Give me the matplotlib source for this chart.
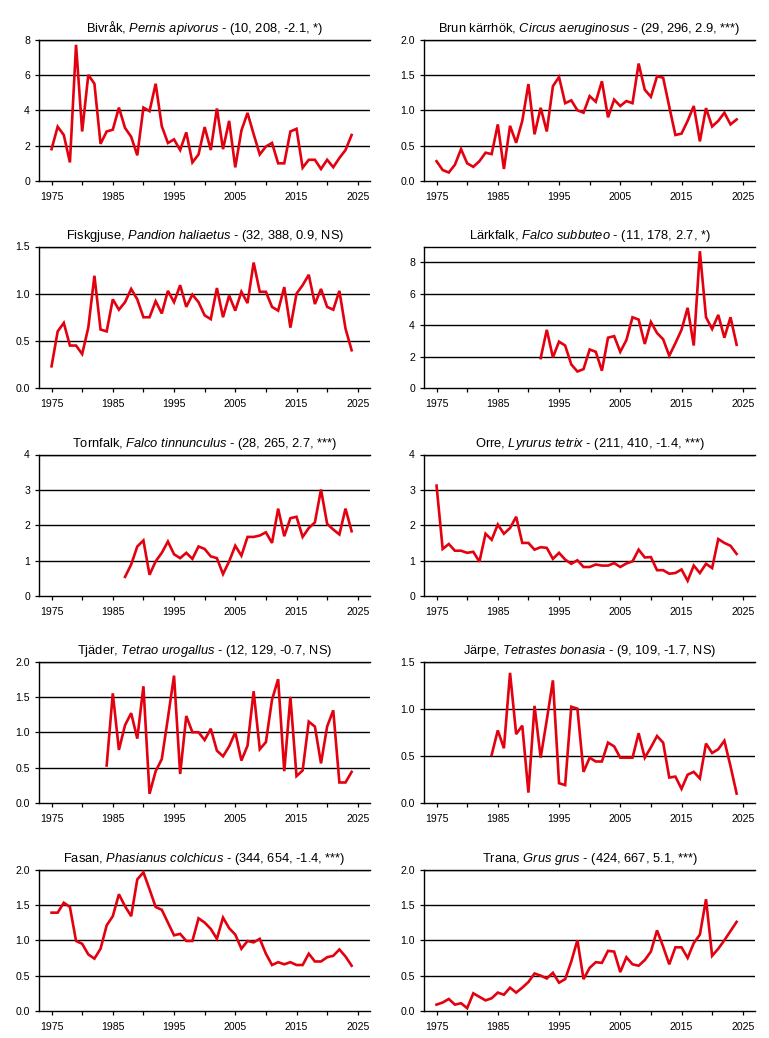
import matplotlib
matplotlib.use("Agg")
import matplotlib.pyplot as plt
import numpy as np

plt.rcParams['font.family'] = ['Liberation Sans', 'DejaVu Sans']
plt.rcParams['mathtext.fontset'] = 'custom'
plt.rcParams['mathtext.rm'] = 'Liberation Sans'
plt.rcParams['mathtext.it'] = 'Liberation Sans:italic'

# ---------------- data ----------------
bivrak_years = list(range(1975, 2025))
bivrak = [1.8, 3.07, 2.6, 1.05, 7.7, 2.8, 6.0, 5.5, 2.1, 2.8,
          2.9, 4.15, 3.0, 2.5, 1.45, 4.15, 3.95, 5.5, 3.1, 2.15,
          2.35, 1.75, 2.75, 1.05, 1.5, 3.05, 1.75, 4.1, 1.8, 3.4,
          0.77, 2.85, 3.85, 2.65, 1.5, 1.95, 2.15, 1.0, 1.0, 2.8,
          2.95, 0.75, 1.2, 1.2, 0.68, 1.2, 0.78, 1.3, 1.75, 2.6]

brun_years = list(range(1975, 2025))
brun = [0.28, 0.155, 0.12, 0.23, 0.45, 0.25, 0.20, 0.28, 0.40, 0.38,
        0.80, 0.17, 0.78, 0.54, 0.85, 1.37, 0.66, 1.035, 0.70, 1.34,
        1.47, 1.10, 1.14, 1.0, 0.965, 1.2, 1.12, 1.41, 0.90, 1.15,
        1.06, 1.13, 1.10, 1.66, 1.29, 1.19, 1.48, 1.46, 1.05, 0.65,
        0.67, 0.85, 1.06, 0.56, 1.03, 0.77, 0.85, 0.965, 0.80, 0.87]

fisk_years = list(range(1975, 2025))
fisk = [0.23, 0.60, 0.69, 0.45, 0.45, 0.36, 0.64, 1.19, 0.62, 0.60,
        0.94, 0.83, 0.91, 1.05, 0.94, 0.75, 0.75, 0.92, 0.79, 1.03,
        0.91, 1.09, 0.86, 0.99, 0.91, 0.77, 0.73, 1.06, 0.75, 0.98,
        0.82, 1.02, 0.90, 1.33, 1.02, 1.02, 0.86, 0.82, 1.07, 0.64,
        1.0, 1.09, 1.20, 0.89, 1.05, 0.86, 0.83, 1.03, 0.63, 0.40]

lark_years = list(range(1992, 2025))
lark = [1.9, 3.7, 1.95, 2.95, 2.7, 1.5, 1.05, 1.2, 2.45, 2.3,
        1.1, 3.2, 3.3, 2.3, 3.05, 4.5, 4.35, 2.8, 4.2, 3.5,
        3.1, 2.05, 2.85, 3.7, 5.1, 2.7, 8.7, 4.5, 3.75, 4.65,
        3.2, 4.5, 2.75]

torn_years = list(range(1987, 2025))
torn = [0.54, 0.89, 1.4, 1.57, 0.6, 0.98, 1.22, 1.54, 1.18, 1.07,
        1.22, 1.05, 1.4, 1.33, 1.12, 1.07, 0.62, 0.98, 1.42, 1.14,
        1.67, 1.67, 1.71, 1.80, 1.5, 2.47, 1.69, 2.2, 2.24, 1.67,
        1.92, 2.08, 3.01, 2.04, 1.88, 1.74, 2.47, 1.83]

orre_years = list(range(1975, 2025))
orre = [3.12, 1.33, 1.47, 1.28, 1.28, 1.22, 1.25, 0.97, 1.76, 1.59,
        2.02, 1.76, 1.92, 2.24, 1.5, 1.5, 1.31, 1.38, 1.36, 1.05,
        1.22, 1.03, 0.91, 1.01, 0.82, 0.82, 0.89, 0.86, 0.86, 0.93,
        0.82, 0.92, 0.98, 1.31, 1.09, 1.10, 0.73, 0.73, 0.63, 0.65,
        0.75, 0.43, 0.86, 0.65, 0.91, 0.79, 1.61, 1.5, 1.42, 1.19]

tjader_years = list(range(1984, 2025))
tjader = [0.53, 1.55, 0.75, 1.10, 1.27, 0.91, 1.65, 0.13, 0.45, 0.62,
          1.2, 1.80, 0.41, 1.23, 1.0, 1.0, 0.89, 1.05, 0.74, 0.66,
          0.80, 1.0, 0.60, 0.81, 1.58, 0.76, 0.86, 1.46, 1.75, 0.45,
          1.5, 0.38, 0.46, 1.15, 1.08, 0.56, 1.08, 1.31, 0.29, 0.29,
          0.44]

jarpe_years = list(range(1984, 2025))
jarpe = [0.51, 0.77, 0.58, 1.38, 0.73, 0.82, 0.11, 1.03, 0.48, 0.88,
         1.30, 0.21, 0.19, 1.02, 1.0, 0.33, 0.48, 0.44, 0.44, 0.64,
         0.60, 0.48, 0.48, 0.48, 0.74, 0.48, 0.59, 0.71, 0.64, 0.27,
         0.28, 0.15, 0.30, 0.33, 0.26, 0.63, 0.53, 0.57, 0.66, 0.39,
         0.10]

fasan_years = list(range(1975, 2025))
fasan = [1.39, 1.39, 1.53, 1.47, 0.99, 0.95, 0.80, 0.74, 0.88, 1.21,
         1.34, 1.65, 1.48, 1.34, 1.86, 1.96, 1.72, 1.47, 1.43, 1.25,
         1.07, 1.09, 0.99, 0.99, 1.31, 1.25, 1.16, 1.02, 1.32, 1.17,
         1.08, 0.88, 0.99, 0.97, 1.02, 0.81, 0.65, 0.69, 0.66, 0.69,
         0.65, 0.65, 0.81, 0.70, 0.70, 0.76, 0.78, 0.87, 0.77, 0.64]

trana_years = list(range(1975, 2025))
trana = [0.09, 0.12, 0.17, 0.09, 0.11, 0.04, 0.25, 0.20, 0.15, 0.18,
         0.26, 0.23, 0.33, 0.26, 0.33, 0.41, 0.53, 0.50, 0.46, 0.54,
         0.40, 0.45, 0.70, 1.0, 0.45, 0.61, 0.69, 0.68, 0.85, 0.84,
         0.55, 0.76, 0.66, 0.64, 0.72, 0.84, 1.14, 0.91, 0.66, 0.90,
         0.90, 0.75, 0.96, 1.08, 1.58, 0.78, 0.88, 1.0, 1.13, 1.26]

names = ["Bivråk", "Brun kärrhök", "Fiskgjuse", "Lärkfalk", "Tornfalk",
         "Orre", "Tjäder", "Järpe", "Fasan", "Trana"]
latin = ["Pernis apivorus", "Circus aeruginosus", "Pandion haliaetus",
         "Falco subbuteo", "Falco tinnunculus", "Lyrurus tetrix",
         "Tetrao urogallus", "Tetrastes bonasia", "Phasianus colchicus",
         "Grus grus"]
stats = ["(10, 208, -2.1, *)", "(29, 296, 2.9, ***)", "(32, 388, 0.9, NS)",
         "(11, 178, 2.7, *)", "(28, 265, 2.7, ***)", "(211, 410, -1.4, ***)",
         "(12, 129, -0.7, NS)", "(9, 109, -1.7, NS)", "(344, 654, -1.4, ***)",
         "(424, 667, 5.1, ***)"]
series_years = [bivrak_years, brun_years, fisk_years, lark_years, torn_years,
                orre_years, tjader_years, jarpe_years, fasan_years, trana_years]
series_vals = [bivrak, brun, fisk, lark, torn, orre, tjader, jarpe, fasan, trana]
ymax = [8, 2.0, 1.5, 9, 4, 4, 2.0, 1.5, 2.0, 2.0]
yticks = [[0, 2, 4, 6, 8], [0, 0.5, 1.0, 1.5, 2.0], [0, 0.5, 1.0, 1.5],
          [0, 2, 4, 6, 8], [0, 1, 2, 3, 4], [0, 1, 2, 3, 4],
          [0, 0.5, 1.0, 1.5, 2.0], [0, 0.5, 1.0, 1.5],
          [0, 0.5, 1.0, 1.5, 2.0], [0, 0.5, 1.0, 1.5, 2.0]]
xticks = list(range(1975, 2030, 5))
xlabels = ["1975", "", "1985", "", "1995", "", "2005", "", "2015", "", "2025"]

# ---------------- figure ----------------
W, H = 769, 1038
fig = plt.figure(figsize=(W / 100, H / 100), dpi=100)

col_left = [39.3, 424.3]
ax_w = 330.7
row_bottom = [857, 650, 442, 235, 27]
ax_h = 141.5
red = '#E3000F'

for i in range(10):
    r, c = divmod(i, 2)
    ax = fig.add_axes([col_left[c] / W, row_bottom[r] / H, ax_w / W, ax_h / H])
    ax.set_xlim(1973, 2027)
    ax.set_ylim(0, ymax[i])
    for yv in yticks[i]:
        if yv > 0:
            ax.axhline(yv, color='black', lw=1.0, zorder=1)
    ax.plot(series_years[i], series_vals[i], color=red, lw=1.9,
            solid_joinstyle='miter', zorder=3)
    ax.set_xticks(xticks)
    ax.set_xticklabels(xlabels)
    ax.set_yticks(yticks[i])
    if yticks[i][1] == 0.5:
        ax.set_yticklabels(["%.1f" % v for v in yticks[i]])
    else:
        ax.set_yticklabels(["%d" % v for v in yticks[i]])
    ax.tick_params(axis='both', direction='out', length=3.2, width=0.9,
                   labelsize=7.6, colors='black')
    ax.tick_params(axis='x', pad=5)
    ax.tick_params(axis='y', pad=3.5)
    ax.spines['right'].set_visible(False)
    for s in ['left', 'bottom', 'top']:
        ax.spines[s].set_linewidth(1.0)
    title = names[i] + ", $\\it{" + latin[i].replace(" ", "\\ ") + "}$ - " + stats[i]
    ax.set_title(title, fontsize=9.3, pad=5.5)

fig.savefig("out.png", dpi=100)
